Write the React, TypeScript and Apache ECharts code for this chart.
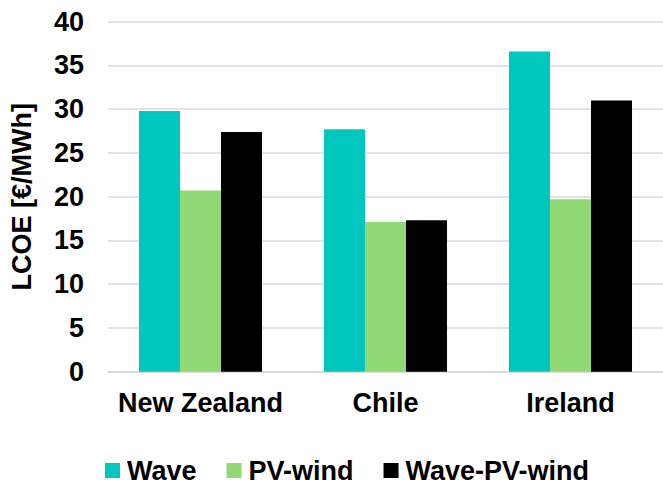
import React, { useEffect, useRef } from "react";
import * as echarts from "echarts";

const categories = ["New Zealand", "Chile", "Ireland"];
const seriesNames = ["Wave", "PV-wind", "Wave-PV-wind"];
const waveValues = [29.8, 27.7, 36.6];
const pvWindValues = [20.7, 17.1, 19.7];
const wavePvWindValues = [27.4, 17.3, 31.0];
const colors = ["#00C7BE", "#90D975", "#000000"];

export default function App() {
  const ref = useRef<HTMLDivElement>(null);
  useEffect(() => {
    if (!ref.current) return;
    const chart = echarts.init(ref.current, null, { renderer: "svg" });
    const font = "'Liberation Sans', Arial, sans-serif";
    const dataSets = [waveValues, pvWindValues, wavePvWindValues];
    chart.setOption({
      animation: false,
      backgroundColor: "#ffffff",
      textStyle: { fontFamily: font },
      grid: { left: 104, top: 21.7, height: 350, width: 566, containLabel: false },
      legend: {
        left: 100,
        top: 452,
        itemWidth: 15,
        itemHeight: 15,
        itemGap: 30,
        icon: "rect",
        data: seriesNames,
        textStyle: { fontFamily: font, fontSize: 27, fontWeight: "bold", color: "#000", padding: [0, 0, 0, 2] },
      },
      xAxis: {
        type: "category",
        data: categories,
        axisLine: { show: true, lineStyle: { color: "#D9D9D9", width: 1.5 } },
        axisTick: { show: false },
        axisLabel: { interval: 0, fontFamily: font, fontSize: 27, fontWeight: "bold", color: "#000", margin: 18 },
      },
      yAxis: {
        type: "value",
        min: 0,
        max: 40,
        interval: 5,
        name: "LCOE [€/MWh]",
        nameLocation: "middle",
        nameGap: 73,
        nameTextStyle: { fontFamily: font, fontSize: 27, fontWeight: "bold", color: "#000" },
        axisLine: { show: false },
        axisTick: { show: false },
        splitLine: { lineStyle: { color: "#D9D9D9", width: 1.5 } },
        axisLabel: { fontFamily: font, fontSize: 27, fontWeight: "bold", color: "#000", margin: 24 },
      },
      series: seriesNames.map((name, i) => ({
        name,
        type: "bar",
        data: dataSets[i],
        barGap: "0%",
        barCategoryGap: "33.5%",
        itemStyle: { color: colors[i] },
      })),
    });
    return () => chart.dispose();
  }, []);
  return <div ref={ref} style={{ position: "fixed", left: 0, top: 0, width: 663, height: 485 }} />;
}
